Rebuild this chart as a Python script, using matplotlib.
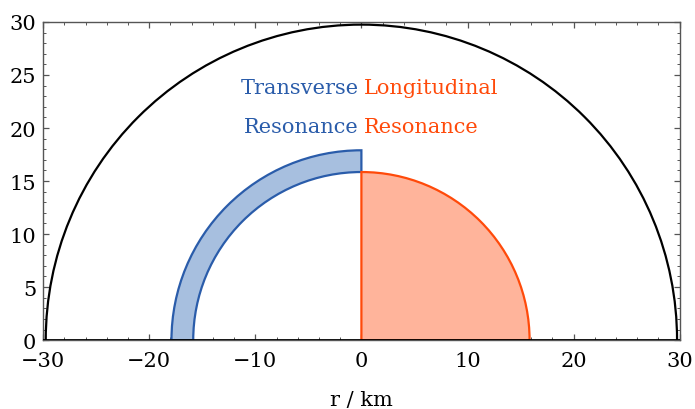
import matplotlib.pyplot as plt
from matplotlib.patches import Wedge, Arc
from matplotlib.ticker import MultipleLocator

# radii in km
r_star = 29.75
r_trans_in = 15.85
r_trans_out = 17.9
r_long = 15.85

blue = '#2a5caa'
blue_fill = '#a7bfdf'
orange = '#ff4a0a'
orange_fill = '#ffb49b'

plt.rcParams['font.family'] = 'DejaVu Serif'
fs = 15

fig = plt.figure(figsize=(6.95, 4.1), dpi=100)
ax = fig.add_axes([0.062, 0.168, 0.916, 0.776])

# outer boundary (half circle)
ax.add_patch(Arc((0, 0), 2 * r_star, 2 * r_star, theta1=0, theta2=180,
                 color='black', lw=1.6, zorder=3))

# transverse resonance: shell on left quarter
ax.add_patch(Wedge((0, 0), r_trans_out, 90, 180, width=r_trans_out - r_trans_in,
                   facecolor=blue_fill, edgecolor=blue, lw=1.6, zorder=2))

# longitudinal resonance: quarter disc on the right
ax.add_patch(Wedge((0, 0), r_long, 0, 90,
                   facecolor=orange_fill, edgecolor=orange, lw=1.6, zorder=2))

ax.axhline(0, color='black', lw=2.0, zorder=4)

ax.text(-0.25, 23.8, 'Transverse', color=blue, ha='right', va='center', fontsize=fs)
ax.text(-0.25, 20.1, 'Resonance', color=blue, ha='right', va='center', fontsize=fs)
ax.text(0.25, 23.8, 'Longitudinal', color=orange, ha='left', va='center', fontsize=fs)
ax.text(0.25, 20.1, 'Resonance', color=orange, ha='left', va='center', fontsize=fs)

ax.set_xlim(-30, 30)
ax.set_ylim(0, 30)

ax.xaxis.set_major_locator(MultipleLocator(10))
ax.xaxis.set_minor_locator(MultipleLocator(2))
ax.yaxis.set_major_locator(MultipleLocator(5))
ax.yaxis.set_minor_locator(MultipleLocator(1))
ax.tick_params(which='both', direction='in', top=True, right=True,
               color='#555555', labelsize=fs)
ax.tick_params(which='major', length=4.5, width=0.9)
ax.tick_params(which='minor', length=2.5, width=0.7)
ax.tick_params(axis='x', which='major', pad=8)
ax.tick_params(axis='y', which='major', pad=5)
ax.xaxis.set_major_formatter(plt.FuncFormatter(lambda v, p: f'{v:.0f}'.replace('-', '\u2212')))
ax.yaxis.set_major_formatter(plt.FuncFormatter(lambda v, p: f'{v:.0f}'))
for s in ax.spines.values():
    s.set_color('#555555')
    s.set_linewidth(1.0)

ax.set_xlabel('r / km', fontsize=fs, labelpad=14)

fig.savefig('out.png', dpi=100)
